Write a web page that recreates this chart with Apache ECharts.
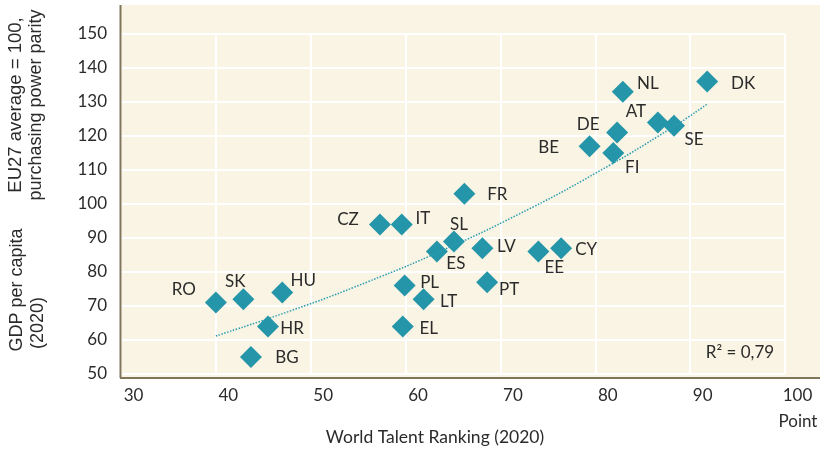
<!DOCTYPE html>
<html>
<head>
<meta charset="utf-8">
<script src="https://cdn.jsdelivr.net/npm/echarts@6/dist/echarts.min.js"></script>
<style>
html,body{margin:0;padding:0;background:#ffffff;}
#chart{width:820px;height:449px;}
</style>
</head>
<body>
<div id="chart"></div>
<script>
// ---- data ----
const countries = ['RO','SK','HU','HR','BG','PL','EL','LT','FR','CZ','IT','SL','ES','LV','EE','CY','PT','NL','DK','AT','SE','DE','BE','FI'];
const talentScore = [40.0,42.9,47.0,45.5,43.7,59.9,59.7,61.9,66.2,57.3,59.6,65.1,63.3,68.1,74.0,76.4,68.6,82.9,91.8,86.6,88.3,82.3,79.4,81.9];
const gdpPerCapita = [71,72,74,64,55,76,64,72,103,94,94,89,86,87,86,87,77,133,136,124,123,121,117,115];
const trendX = [40,48,56,64,72,80,88,91.8];
const trendY = [61.2,68.7,77.1,86.5,97.1,109.0,122.3,129.4];
const xTicks = [30,40,50,60,70,80,90,100];
const yTicks = [50,60,70,80,90,100,110,120,130,140,150];
const r2Text = 'R\u00b2 = 0,79';

// ---- label placement (layout only) ----
const labelOffsets = {
  RO:[-32,-13], SK:[-8,-18], HU:[21,-12], HR:[24,2], BG:[36,1], PL:[25,-3], EL:[26,2], LT:[25,2],
  FR:[33,1], CZ:[-32,-5], IT:[21,-6], SL:[5,-17], ES:[19,12], LV:[24,-2], EE:[16,16], CY:[25,1],
  PT:[22,7], NL:[25,-8], DK:[36,2], AT:[-22,-11], SE:[20,14], DE:[-29,-8], BE:[-41,1], FI:[19,15]
};

const TEXT = '#2b2b2b';
const TEAL = '#2596a9';
const BEIGE = '#f9f4e3';
const AXIS = '#80775a';

const points = countries.map((c, i) => ({
  name: c,
  value: [talentScore[i], gdpPerCapita[i]],
  label: { offset: labelOffsets[c] }
}));
const trend = trendX.map((x, i) => [x, trendY[i]]);

const chart = echarts.init(document.getElementById('chart'), null, {renderer: 'canvas'});
chart.setOption({
  animation: false,
  backgroundColor: '#ffffff',
  textStyle: { fontFamily: 'Lato' },
  grid: { left: 121, right: 35, top: 34, bottom: 75, containLabel: false },
  xAxis: {
    type: 'value', min: xTicks[0], max: xTicks[xTicks.length - 1], interval: 10,
    axisLine: { show: false }, axisTick: { show: false },
    splitLine: { show: true, lineStyle: { color: '#ffffff', width: 2 } },
    axisLabel: { color: TEXT, fontSize: 17, fontFamily: 'Lato', margin: 13, padding: [0,0,0,25] }
  },
  yAxis: {
    type: 'value', min: yTicks[0], max: yTicks[yTicks.length - 1], interval: 10,
    axisLine: { show: false }, axisTick: { show: false },
    splitLine: { show: true, lineStyle: { color: '#ffffff', width: 2 } },
    axisLabel: { color: TEXT, fontSize: 17, fontFamily: 'Lato', margin: 14 }
  },
  graphic: [
    { type: 'rect', z: -10, shape: { x: 120, y: 5, width: 700, height: 373 }, style: { fill: BEIGE } },
    { type: 'line', z: 10, shape: { x1: 120.5, y1: 5, x2: 120.5, y2: 378 }, style: { stroke: AXIS, lineWidth: 2 } },
    { type: 'line', z: 10, shape: { x1: 120, y1: 378, x2: 820, y2: 378 }, style: { stroke: AXIS, lineWidth: 2 } },
    { type: 'text', z: 10, x: 740, y: 353, style: { text: r2Text, fill: TEXT, font: '17px Lato', textAlign: 'center', textVerticalAlign: 'middle' } },
    { type: 'text', z: 10, x: 798, y: 422, style: { text: 'Point', fill: TEXT, font: '17px Lato', textAlign: 'center', textVerticalAlign: 'middle' } },
    { type: 'text', z: 10, x: 435, y: 437, style: { text: 'World Talent Ranking (2020)', fill: TEXT, font: '17.5px Lato', textAlign: 'center', textVerticalAlign: 'middle' } },
    { type: 'text', z: 10, x: 16, y: 105, rotation: Math.PI / 2, style: { text: 'EU27 average = 100,', fill: TEXT, font: '18.5px "Liberation Sans"', textAlign: 'center', textVerticalAlign: 'middle' } },
    { type: 'text', z: 10, x: 36, y: 105, rotation: Math.PI / 2, style: { text: 'purchasing power parity', fill: TEXT, font: '18px "Liberation Sans"', textAlign: 'center', textVerticalAlign: 'middle' } },
    { type: 'text', z: 10, x: 17, y: 290, rotation: Math.PI / 2, style: { text: 'GDP per capita', fill: TEXT, font: '18px "Liberation Sans"', textAlign: 'center', textVerticalAlign: 'middle' } },
    { type: 'text', z: 10, x: 38, y: 323, rotation: Math.PI / 2, style: { text: '(2020)', fill: TEXT, font: '18px "Liberation Sans"', textAlign: 'center', textVerticalAlign: 'middle' } }
  ],
  series: [
    {
      type: 'scatter', name: 'Countries', data: points, z: 3,
      symbol: 'diamond', symbolSize: 22,
      itemStyle: { color: TEAL, opacity: 1 },
      label: { show: true, position: 'inside', formatter: '{b}', color: TEXT, fontSize: 17, fontFamily: 'Lato' }
    },
    {
      type: 'line', name: 'Trend', data: trend, z: 4, smooth: true,
      showSymbol: false, symbol: 'none',
      lineStyle: { color: '#2a9db2', width: 1.5, type: [1.5, 1.5] }
    }
  ]
});
</script>
</body>
</html>
